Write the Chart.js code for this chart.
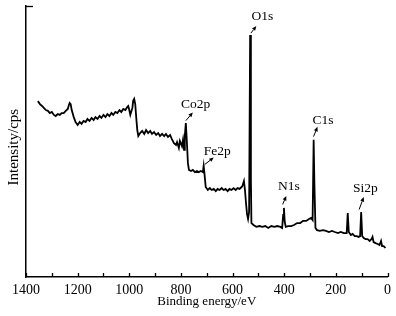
<!DOCTYPE html>
<html>
<head>
<meta charset="utf-8">
<script src="https://cdn.jsdelivr.net/npm/chart.js"></script>
<style>
html,body{margin:0;padding:0;background:#fff;}
canvas{display:block;}
</style>
</head>
<body>
<canvas id="c" width="396" height="316"></canvas>
<script>
// Binding energy (eV)
const energies = [
 1354,1346,1338,1331,1323,1315,1308,1300,1292,1285,1277,1269,1262,1254,1246,1238,1235,1231,1227,1223,1215,1208,1200,
 1192,1185,1177,1169,1162,1154,1146,1138,1131,1123,1115,1108,1100,1092,1085,1077,1069,1062,1054,1046,1038,1031,1023,1015,1008,1004,
 1000,996,988,985,981,977,973,969,965,958,950,942,935,927,919,912,904,896,888,881,873,865,858,850,842,835,
 827,819,815,808,804,796,792,788,785,781,777,773,769,761,754,746,738,731,723,715,712,708,704,
 696,688,681,673,665,658,650,642,635,627,619,612,604,596,588,581,573,565,562,556,552,548,544,540,536,532,529,527,
 519,508,496,485,473,462,450,438,427,415,408,404,401,398,394,385,373,362,350,338,327,315,304,296,290,286,283,279,
 273,262,250,238,227,215,204,192,181,169,158,154,150,142,135,127,119,112,106,102,98,92,85,77,69,62,58,54,46,38,31,25,21,15,8
];
// Intensity (arbitrary units, cps)
const intensities = [
 64.9,63.8,63.1,62.4,61.6,61.3,60.5,60.9,59.8,59.4,60.1,59.8,60.5,60.5,61.3,62.0,63.1,64.2,63.8,61.6,59.0,57.2,56.1,
 57.2,56.5,57.6,57.2,58.3,57.6,58.7,57.9,59.0,58.3,59.4,58.7,59.8,59.0,60.1,59.4,60.5,59.8,60.9,60.5,61.6,60.9,62.0,61.6,62.7,63.1,
 61.6,59.8,62.4,65.0,65.7,63.8,58.7,54.2,52.0,53.1,53.9,52.8,54.2,53.1,53.9,52.8,53.5,52.4,53.1,52.0,52.8,52.0,52.8,51.7,52.4,50.9,
 49.4,48.7,49.8,47.6,50.2,48.3,50.6,46.9,52.0,56.8,49.8,42.1,39.5,39.1,39.5,38.7,39.1,38.7,39.1,38.7,41.0,37.3,33.2,
 32.1,32.8,32.1,32.5,31.7,32.5,32.1,32.8,32.1,32.5,31.7,32.5,32.1,32.8,32.1,32.8,32.5,33.2,33.6,35.4,32.1,27.3,23.2,21.4,24.0,89.3,35.8,19.9,
 19.2,18.5,18.8,18.5,18.8,18.1,18.8,18.5,18.8,18.5,18.1,22.9,25.5,20.3,18.5,18.8,18.8,19.2,19.9,19.9,20.7,20.7,21.4,21.8,21.0,50.6,33.9,18.1,
 17.3,17.0,17.3,17.0,16.6,17.0,16.6,16.2,16.6,16.2,16.2,23.6,16.6,15.5,15.9,15.1,15.1,14.8,15.1,24.0,15.1,14.4,14.0,14.0,13.3,14.0,14.8,12.9,12.5,12.2,11.8,13.3,11.4,11.4,10.7
];
// Axis tick labels
const xTicks = [1400,1200,1000,800,600,400,200,0];
const xMinorTicks = [1400,1300,1200,1100,1000,900,800,700,600,500,400,300,200,100,0];
// Peak labels
const peakNames = ['O1s','C1s','Co2p','Fe2p','N1s','Si2p'];

// Annotation geometry in data units (label centre, arrow tail, arrow head)
const annot = {
  'O1s':  {tx:485, ty:96.3, ax0:529, ay0:90.0, ax1:508, ay1:92.6},
  'C1s':  {tx:250, ty:57.9, ax0:286.5, ay0:51.8, ax1:271, ay1:55.4},
  'Co2p': {tx:743, ty:63.8, ax0:781, ay0:57.7, ax1:754, ay1:60.7},
  'Fe2p': {tx:659, ty:46.5, ax0:708, ay0:41.5, ax1:673, ay1:44.1},
  'N1s':  {tx:382, ty:33.4, ax0:406, ay0:26.8, ax1:392, ay1:29.9},
  'Si2p': {tx:86,  ty:32.8, ax0:110, ay0:24.9, ax1:92,  ay1:29.5}
};

const FONT = '"Liberation Serif","Times New Roman",serif';

const extras = {
  id: 'extras',
  afterDraw(chart) {
    const ctx = chart.ctx;
    const xs = chart.scales.x, ys = chart.scales.y;
    const area = chart.chartArea;
    ctx.save();
    ctx.strokeStyle = '#000';
    ctx.lineWidth = 1.3;
    xMinorTicks.forEach(v => {
      const px = Math.round(xs.getPixelForValue(v)) + 0.5;
      ctx.beginPath();
      ctx.moveTo(px, area.bottom);
      ctx.lineTo(px, area.bottom - 4);
      ctx.stroke();
    });
    const ty = Math.round(ys.getPixelForValue(ys.max)) + 0.5;
    ctx.beginPath();
    ctx.moveTo(area.left, ty);
    ctx.lineTo(area.left + 7, ty);
    ctx.stroke();
    ctx.fillStyle = '#000';
    ctx.font = '13.5px ' + FONT;
    ctx.textAlign = 'center';
    ctx.textBaseline = 'middle';
    peakNames.forEach(name => {
      const a = annot[name];
      ctx.fillText(name, xs.getPixelForValue(a.tx), ys.getPixelForValue(a.ty));
      const x0 = xs.getPixelForValue(a.ax0), y0 = ys.getPixelForValue(a.ay0);
      const x1 = xs.getPixelForValue(a.ax1), y1 = ys.getPixelForValue(a.ay1);
      const ang = Math.atan2(y1 - y0, x1 - x0);
      const hl = 4.5, hw = 2;
      const bx = x1 - hl * Math.cos(ang), by = y1 - hl * Math.sin(ang);
      ctx.lineWidth = 1;
      ctx.beginPath();
      ctx.moveTo(x0, y0);
      ctx.lineTo(bx, by);
      ctx.stroke();
      ctx.beginPath();
      ctx.moveTo(x1, y1);
      ctx.lineTo(bx + hw * Math.sin(ang), by - hw * Math.cos(ang));
      ctx.lineTo(bx - hw * Math.sin(ang), by + hw * Math.cos(ang));
      ctx.closePath();
      ctx.fill();
    });
    ctx.restore();
  }
};

Chart.defaults.font.family = FONT;
Chart.defaults.color = '#000';

new Chart(document.getElementById('c'), {
  type: 'line',
  data: {
    datasets: [{
      data: energies.map((e, i) => ({x: e, y: intensities[i]})),
      borderColor: '#000',
      borderWidth: 1.8,
      pointRadius: 0,
      tension: 0,
      fill: false
    }]
  },
  options: {
    responsive: false,
    animation: false,
    devicePixelRatio: 1,
    layout: {padding: {top: 6, right: 6, left: 0, bottom: 0}},
    plugins: {legend: {display: false}, tooltip: {enabled: false}},
    scales: {
      x: {
        type: 'linear',
        reverse: true,
        min: 0,
        max: 1400,
        afterBuildTicks: s => { s.ticks = xTicks.map(v => ({value: v})); },
        afterFit: s => { s.height = 39; },
        grid: {display: false, drawTicks: false, tickLength: 0},
        border: {display: true, color: '#000', width: 1.5},
        ticks: {font: {size: 14, family: FONT}, color: '#000', padding: 5, maxRotation: 0, autoSkip: false,
                callback: v => String(v)},
        title: {display: true, text: 'Binding energy/eV', font: {size: 13, family: FONT}, color: '#000', padding: {top: 0, bottom: 7}}
      },
      y: {
        min: 0,
        max: 100,
        afterFit: s => { s.width = 26; },
        grid: {display: false, drawTicks: false, tickLength: 0},
        border: {display: true, color: '#000', width: 1.5},
        ticks: {display: false},
        title: {display: true, text: 'Intensity/cps\u00a0\u00a0\u00a0', font: {size: 15, family: FONT}, color: '#000', padding: {top: 5, bottom: 0}}
      }
    }
  },
  plugins: [extras]
});
</script>
</body>
</html>
